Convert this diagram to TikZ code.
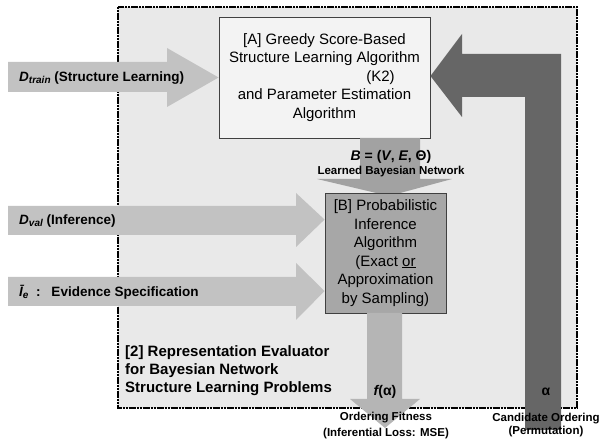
\documentclass[tikz,border=0pt]{standalone}
\usepackage{fontspec}
\setmainfont{Liberation Sans}
\usetikzlibrary{calc}
\definecolor{framegray}{HTML}{E9E9E9}
\definecolor{inputgray}{HTML}{C2C2C2}
\definecolor{boxalight}{HTML}{F3F3F3}
\definecolor{boxbgray}{HTML}{A7A7A7}
\definecolor{linkgray}{HTML}{A2A2A2}
\definecolor{outgray}{HTML}{B5B5B5}
\definecolor{loopgray}{HTML}{666666}
\definecolor{edgegray}{HTML}{404040}
\begin{document}
\begin{tikzpicture}[x=1pt,y=-1pt,
  frame/.style={fill=framegray, draw=black, line width=2.2pt, dash pattern=on 2.2pt off 0.6pt},
  algbox/.style={draw=edgegray, line width=0.9pt, align=center, inner sep=0pt,
                 font=\fontsize{15}{18.5}\selectfont},
  inlabel/.style={anchor=west, inner sep=0pt, font=\bfseries\fontsize{13.5}{16}\selectfont},
  outlabel/.style={align=center, inner sep=0pt, font=\bfseries\fontsize{11.5}{14}\selectfont},
  symlabel/.style={inner sep=0pt, font=\bfseries\fontsize{14}{16}\selectfont}
]
\useasboundingbox (0,0) rectangle (600,443);

% evaluator frame
\draw[frame] (118,7) rectangle (577,408);

% algorithm boxes
\node[algbox, fill=boxalight, minimum width=211pt, minimum height=121pt] (A) at (324.5,77.5)
  {[A] Greedy Score-Based\\Structure Learning Algorithm\\\hspace*{112pt}(K2)\\and Parameter Estimation\\Algorithm};

% learned network: A -> B
\fill[linkgray] (360,138) -- (420,138) -- (420,179) -- (452,179) -- (389,196)
  -- (317,179) -- (360,179) -- cycle;

\node[algbox, fill=boxbgray, minimum width=121pt, minimum height=120pt] (B) at (385.5,253)
  {[B] Probabilistic\\Inference\\Algorithm\\(Exact \underline{or}\\Approximation\\by Sampling)};

% input arrows
\fill[inputgray] (8,62) -- (167,62) -- (167,48) -- (A.west) -- (167,107) -- (167,92) -- (8,92) -- cycle;
\coordinate (valtip) at ($(B.north west)+(0,27)$);
\fill[inputgray] (8,206) -- (296,206) -- (296,193) -- (valtip) -- (296,247) -- (296,235) -- (8,235) -- cycle;
\coordinate (evtip) at ($(B.north west)+(0,98.5)$);
\fill[inputgray] (8,277) -- (296,277) -- (296,263) -- (evtip) -- (296,320) -- (296,306) -- (8,306) -- cycle;

% output arrow from B
\fill[outgray] (367,313) -- (402,313) -- (402,399) -- (420,399) -- (385,428) -- (350,399) -- (367,399) -- cycle;

% feedback arrow into A
\coordinate (looptip) at ($(A.east)+(0,-1.5)$);
\fill[loopgray] (525,430) -- (525,97) -- (462,97) -- (462,117) -- (looptip) -- (462,34)
  -- (462,54) -- (561,54) -- (561,430) -- cycle;

% labels
\node[inlabel] (ltrain) at (19,78)
  {\itshape D\raisebox{-2.5pt}{\fontsize{10}{10}\selectfont train}\upshape\ (Structure Learning)};
\node[inlabel] (lval) at (19,221)
  {\itshape D\raisebox{-2.5pt}{\fontsize{10}{10}\selectfont val}\upshape\ (Inference)};
\node[inlabel] (lev) at (19,292)
  {\itshape \=I\raisebox{-2.5pt}{\fontsize{10}{10}\selectfont e}\upshape\ \ :\hspace{11pt}Evidence Specification};

\node[symlabel] (lB) at (391,157) {\itshape B\upshape{} = (\itshape V\upshape, \itshape E\upshape, Θ)};
\node[outlabel] (lnet) at (391,172) {Learned Bayesian Network};

\node[anchor=west, align=left, inner sep=0pt, font=\bfseries\fontsize{15}{18}\selectfont] (leval) at (125,371)
  {[2] Representation Evaluator\\for Bayesian Network\\Structure Learning Problems};

\node[symlabel] (lf) at (385,392) {\itshape f\upshape(α)};
\node[outlabel, font=\bfseries\fontsize{11.5}{16}\selectfont] (lfit) at (386,426)
  {Ordering Fitness\\(Inferential Loss: MSE)};

\node[symlabel] (la) at (546,392) {α};
\node[outlabel, font=\bfseries\fontsize{11.5}{12.5}\selectfont] (lcand) at (546,425)
  {Candidate Ordering\\(Permutation)};
\end{tikzpicture}
\end{document}
